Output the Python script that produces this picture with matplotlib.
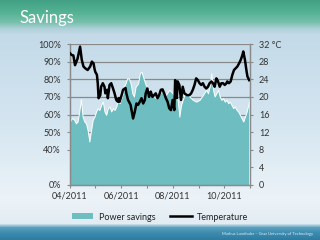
import numpy as np
import matplotlib
matplotlib.use("Agg")
import matplotlib.pyplot as plt
import matplotlib.dates as mdates
from matplotlib.patches import Patch
from matplotlib.lines import Line2D

plt.rcParams['font.family'] = ['Lato', 'DejaVu Sans']

start = np.datetime64('2011-04-01')

# power savings (%), day offset from 1 April 2011
save_days = [0, 2, 5, 7, 9, 11, 13, 15, 17, 19, 21, 23, 25, 27, 29, 31, 33, 35, 37, 39,
             41, 43, 45, 47, 49, 51, 53, 55, 57, 59, 61, 63, 64, 66, 68, 70, 72, 74, 76, 78,
             81, 83, 85, 88, 90, 94, 98, 102, 106, 110, 114, 118, 122, 126, 128, 130, 132, 136, 140,
             142, 146, 150, 154, 158, 162, 164, 166, 168, 170, 172, 174, 176, 178, 180, 182,
             184, 186, 188, 190, 192, 194, 196, 198, 200, 202, 204, 206, 208, 210, 212, 213]
save_pct = [56, 58, 57, 55, 56, 61.7, 68.7, 58.8, 56, 55, 51, 44.7, 51, 57, 58.8, 61.7, 63.5, 62.6, 65.4, 67.3,
            61.7, 59.8, 63.5, 64.5, 61.7, 63.5, 62.6, 64.5, 68.3, 66.4, 69.2, 72.1, 75.8, 77.7, 80.6, 80.5, 77.7, 72.1, 70.2, 75.8,
            77.7, 83.4, 84.3, 79.6, 76.8, 74, 71.1, 69.2, 71.1, 74, 71.1, 74, 72.1, 69.2, 68.3, 58.8, 65.4, 71.1, 72.1,
            70.2, 68.3, 67.3, 68.3, 71.1, 74, 72, 75.8, 83.4, 74, 70.2, 72.1, 74, 70.2, 68.3, 69.2,
            67.3, 68.3, 66.4, 67.3, 65.4, 63.6, 64.5, 62.6, 61.7, 59.8, 57.9, 56, 58.8, 61.7, 65.4, 68.3]

# temperature (deg C)
temp_days = [0, 2, 4, 6, 9, 12, 14, 16, 18, 21, 24, 26, 28, 29, 30, 32, 33, 34, 36, 37,
             39, 41, 42, 44, 45, 47, 49, 51, 53, 55, 57, 58, 59, 62, 63, 66, 67, 69, 72, 75,
             77, 79, 81, 83, 85, 87, 89, 90, 92, 94, 96, 98, 100, 102, 104, 106, 108, 110, 112, 114,
             116, 118, 120, 122, 124, 125, 127, 128, 130, 132, 134, 136, 139, 142, 144, 146, 148, 150, 152, 154,
             156, 158, 160, 162, 164, 166, 168, 170, 172, 174, 176, 178, 180, 182, 184, 186, 187, 189, 191, 193,
             195, 197, 199, 201, 203, 205, 206, 208, 210, 211, 213]
temp_c = [29.9, 29.5, 29.4, 27.2, 28.7, 31.4, 28.4, 26.9, 26.5, 26.1, 26.9, 28.0, 27.6, 26.5, 25.7, 25.0, 23.1, 19.7, 20.4, 22.3,
          23.1, 22.3, 20.8, 21.6, 19.7, 22.7, 23.1, 22.0, 20.8, 19.3, 18.9, 19.7, 18.9, 20.8, 21.6, 22.0, 20.8, 19.3, 18.2, 15.1,
          16.6, 18.5, 18.2, 18.9, 19.7, 18.5, 19.3, 20.8, 21.9, 20.0, 21.2, 20.0, 20.4, 20.8, 19.7, 20.4, 21.6, 21.7, 20.8, 19.7,
          18.9, 17.4, 17.0, 19.3, 17.0, 23.8, 19.7, 23.5, 22.7, 19.3, 22.3, 20.8, 20.4, 20.4, 20.8, 21.6, 22.7, 24.2, 23.8, 23.1,
          22.7, 23.1, 22.3, 21.9, 22.3, 23.1, 23.5, 23.1, 22.3, 24.2, 23.5, 22.3, 23.1, 23.1, 22.7, 23.1, 23.5, 23.1, 23.5, 25.0,
          26.1, 26.5, 26.9, 27.6, 28.4, 29.5, 30.3, 28.4, 25.7, 24.6, 23.8]

pct_ticks = [0, 40, 50, 60, 70, 80, 90, 100]
pct_labels = ['0%', '40%', '50%', '60%', '70%', '80%', '90%', '100%']
temp_ticks = [0, 4, 8, 12, 16, 20, 24, 28, 32]
temp_labels = ['0', '4', '8', '12', '16', '20', '24', '28', '32 °C']

save_dates = start + np.array(save_days).astype('timedelta64[D]')
temp_dates = start + np.array(temp_days).astype('timedelta64[D]')

fig = plt.figure(figsize=(3.2, 2.4), dpi=100)

# slide background
bg = fig.add_axes([0, 0, 1, 1], zorder=-5)
rows = np.arange(240)
keys = [0, 12, 22, 28, 34, 120, 200, 223, 227, 232, 240]
cols = np.array([[66, 160, 132], [85, 178, 148], [120, 192, 172], [172, 208, 214], [196, 218, 232],
                 [212, 229, 240], [236, 243, 248], [226, 236, 242], [92, 160, 190], [62, 140, 176], [45, 122, 160]]) / 255
grad = np.stack([np.interp(rows, keys, cols[:, k]) for k in range(3)], axis=-1)[:, None, :]
bg.imshow(grad, aspect='auto', extent=[0, 1, 0, 1])
bg.axis('off')

fig.text(19 / 320, 1 - 18 / 240, 'Savings', color='white', fontsize=12, va='center', ha='left')
fig.text(313 / 320, 1 - 234 / 240, 'Markus Lamthaler – Graz University of Technology',
         color='white', fontsize=3, ha='right', va='center', alpha=0.85)

ax = fig.add_axes([70 / 320, 1 - 185 / 240, 180 / 320, 141 / 240])
ax.patch.set_alpha(0)


def fwd(p):
    p = np.asarray(p, dtype=float)
    return np.where(p < 40, p / 5, 8 + (p - 40) / 2.5)


def inv(v):
    v = np.asarray(v, dtype=float)
    return np.where(v < 8, v * 5, 40 + (v - 8) * 2.5)


ax.set_yscale('function', functions=(fwd, inv))
ax.set_ylim(0, 100)
ax.fill_between(save_dates, 0, save_pct, color='#6dbdc1', edgecolor='white', linewidth=0.7, zorder=2)
ax.set_yticks(pct_ticks)
ax.set_yticklabels(pct_labels)
ax.set_yticks([], minor=True)
ax.grid(axis='y', color='#8a8a8a', linewidth=0.9)
ax.set_axisbelow(True)

ax.set_xlim(np.datetime64('2011-04-01'), np.datetime64('2011-11-01'))
ax.xaxis.set_major_locator(mdates.MonthLocator(bymonth=[4, 6, 8, 10]))
ax.xaxis.set_minor_locator(mdates.MonthLocator())
ax.xaxis.set_major_formatter(mdates.DateFormatter('%m/%Y'))

ax2 = ax.twinx()
ax2.plot(temp_dates, temp_c, color='black', linewidth=1.8, zorder=3)
ax2.set_ylim(0, 32)
ax2.set_yticks(temp_ticks)
ax2.set_yticklabels(temp_labels)

for a in (ax, ax2):
    a.tick_params(labelsize=6.5, colors='#8a8a8a', labelcolor='#333333', length=2.5, width=0.8, pad=4)
    a.tick_params(which='minor', colors='#8a8a8a', length=2.5, width=0.8)
    a.spines['top'].set_visible(False)
    for s in ('left', 'right', 'bottom'):
        a.spines[s].set_color('#8a8a8a')
        a.spines[s].set_linewidth(0.9)
ax.tick_params(axis='x', pad=2)

handles = [Patch(facecolor='#6dbdc1', edgecolor='none'), Line2D([], [], color='black', linewidth=1.8)]
fig.legend(handles, ['Power savings', 'Temperature'], loc='center', bbox_to_anchor=(0.5, 1 - 217 / 240),
           ncol=2, frameon=False, fontsize=6.5, handlelength=2.4, handleheight=0.6, columnspacing=1.6,
           handletextpad=0.6, labelcolor='#222222')

fig.savefig('out.png', dpi=100)
